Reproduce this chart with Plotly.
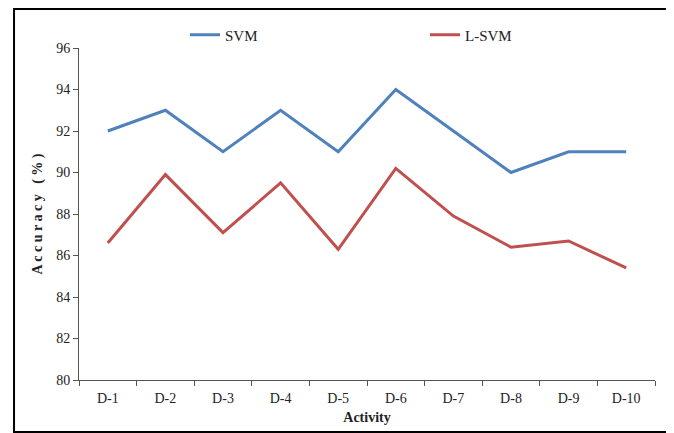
import plotly.graph_objects as go

categories = ["D-1", "D-2", "D-3", "D-4", "D-5", "D-6", "D-7", "D-8", "D-9", "D-10"]
svm = [92, 93, 91, 93, 91, 94, 92, 90, 91, 91]
lsvm = [86.6, 89.9, 87.1, 89.5, 86.3, 90.2, 87.9, 86.4, 86.7, 85.4]
y_ticks = [80, 82, 84, 86, 88, 90, 92, 94, 96]

FONT = "Liberation Serif, Times New Roman, serif"

fig = go.Figure()
fig.add_trace(go.Scatter(x=categories, y=svm, mode="lines", name="SVM",
                         line=dict(color="#4F81BD", width=3)))
fig.add_trace(go.Scatter(x=categories, y=lsvm, mode="lines", name="L-SVM",
                         line=dict(color="#C0504D", width=3)))

fig.update_layout(
    width=674, height=433,
    margin=dict(l=71, r=27, t=40, b=61, autoexpand=False),
    paper_bgcolor="white", plot_bgcolor="white",
    font=dict(family=FONT, size=14, color="#222222"),
    showlegend=True,
    legend=dict(orientation="h", x=0.184, xanchor="left", y=1.089, yanchor="top",
                entrywidth=195, entrywidthmode="pixels",
                font=dict(family=FONT, size=15, color="#222222"),
                bgcolor="rgba(0,0,0,0)"),
    xaxis=dict(type="category", showline=True, linecolor="#555555", linewidth=1,
               ticks="outside", tickson="boundaries", ticklen=5, tickcolor="#555555",
               showgrid=False, zeroline=False, range=[-0.5, 9.5],
               tickfont=dict(family=FONT, size=14), ticklabelstandoff=5,
               title=dict(text="<b>Activity</b>", font=dict(family=FONT, size=14), standoff=7)),
    yaxis=dict(range=[80, 96], tickvals=y_ticks, showline=True, linecolor="#555555",
               linewidth=1, ticks="outside", ticklen=5, tickcolor="#555555",
               showgrid=False, zeroline=False, tickfont=dict(family=FONT, size=14),
               title=dict(text="<b>A c c u r a c y&nbsp;&nbsp;&nbsp;( % )</b>",
                          font=dict(family=FONT, size=14), standoff=10)),
    shapes=[dict(type="rect", xref="paper", yref="paper",
                 x0=-0.1128, x1=1.2, y0=-0.1566, y1=1.1175,
                 line=dict(color="black", width=2), fillcolor="rgba(0,0,0,0)", layer="below")],
)

fig.write_html("out.html")
